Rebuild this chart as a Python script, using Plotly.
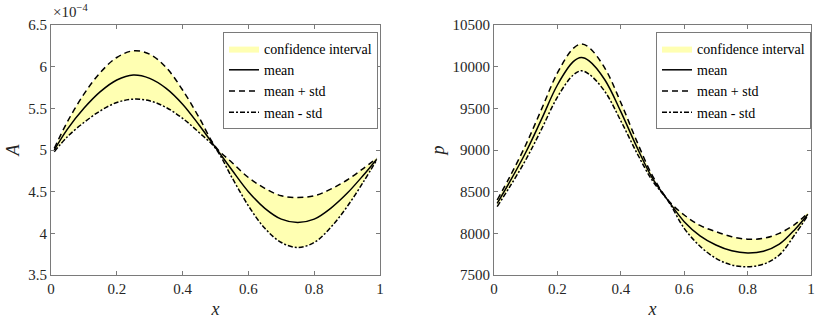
import plotly.graph_objects as go

# ---- data ----
x_left = [0.01, 0.05, 0.10, 0.15, 0.20, 0.25, 0.30, 0.35, 0.40, 0.45, 0.50,
          0.55, 0.60, 0.65, 0.70, 0.75, 0.80, 0.85, 0.90, 0.95, 0.99]
# A values in units of 1e-4
A_mean = [5.00, 5.25, 5.50, 5.70, 5.84, 5.90, 5.86, 5.74, 5.55, 5.30, 5.03,
          4.76, 4.50, 4.30, 4.17, 4.13, 4.17, 4.30, 4.48, 4.70, 4.89]
A_upper = [5.02, 5.34, 5.67, 5.93, 6.11, 6.19, 6.15, 5.99, 5.72, 5.39, 5.04,
           4.85, 4.67, 4.54, 4.45, 4.43, 4.45, 4.53, 4.64, 4.78, 4.90]
A_lower = [4.98, 5.16, 5.33, 5.47, 5.57, 5.61, 5.59, 5.51, 5.38, 5.21, 5.02,
           4.67, 4.33, 4.06, 3.89, 3.83, 3.89, 4.07, 4.32, 4.62, 4.88]

x_right = [0.01, 0.05, 0.10, 0.15, 0.20, 0.25, 0.275, 0.30, 0.35, 0.40, 0.45,
           0.50, 0.55, 0.60, 0.65, 0.70, 0.75, 0.80, 0.85, 0.90, 0.95, 0.99]
p_mean = [8360, 8620, 8970, 9370, 9780, 10060, 10110, 10070, 9840, 9460, 9040,
          8660, 8390, 8140, 7970, 7860, 7790, 7765, 7785, 7870, 8050, 8230]
p_upper = [8400, 8680, 9060, 9490, 9925, 10220, 10272, 10230, 9980, 9570, 9110,
           8690, 8395, 8220, 8095, 8020, 7960, 7930, 7940, 8000, 8110, 8245]
p_lower = [8320, 8560, 8880, 9250, 9635, 9900, 9950, 9910, 9700, 9350, 8970,
           8630, 8385, 8060, 7845, 7700, 7620, 7600, 7630, 7740, 7990, 8215]

legend_names = ["confidence interval", "mean", "mean + std", "mean - std"]
x_ticks = [0, 0.2, 0.4, 0.6, 0.8, 1]

FONT = "Liberation Serif"
FILL = "rgb(255,255,178)"
AXC = "#7a7a7a"
TXT = "#262626"

fig = go.Figure()

def add_panel(xs, mean, up, lo, xa, ya, leg):
    fig.add_trace(go.Scatter(
        x=xs + xs[::-1], y=up + lo[::-1], fill="toself", fillcolor=FILL,
        line=dict(width=0, shape="spline"), mode="lines", name=legend_names[0],
        xaxis=xa, yaxis=ya, legend=leg, hoverinfo="skip"))
    fig.add_trace(go.Scatter(
        x=xs, y=mean, mode="lines", name=legend_names[1],
        line=dict(color="black", width=1.5, shape="spline"),
        xaxis=xa, yaxis=ya, legend=leg))
    fig.add_trace(go.Scatter(
        x=xs, y=up, mode="lines", name=legend_names[2],
        line=dict(color="black", width=1.5, dash="6px,4px", shape="spline"),
        xaxis=xa, yaxis=ya, legend=leg))
    fig.add_trace(go.Scatter(
        x=xs, y=lo, mode="lines", name=legend_names[3],
        line=dict(color="black", width=1.5, dash="5px,2px,2px,2px", shape="spline"),
        xaxis=xa, yaxis=ya, legend=leg))

add_panel(x_left, A_mean, A_upper, A_lower, "x", "y", "legend")
add_panel(x_right, p_mean, p_upper, p_lower, "x2", "y2", "legend2")

W, H = 820, 321
ydom = [1 - 275 / H, 1 - 25 / H]

axis_common = dict(
    showline=True, linecolor=AXC, linewidth=1, mirror="ticks",
    ticks="inside", ticklen=4, tickcolor=AXC, showgrid=False, zeroline=False,
    tickfont=dict(family=FONT, size=15, color=TXT), automargin=False,
)

legend_common = dict(
    bgcolor="white", bordercolor=AXC, borderwidth=1,
    font=dict(family=FONT, size=14, color="black"),
    xanchor="left", yanchor="top", itemwidth=30, tracegroupgap=0,
)

title_font = dict(family=FONT, size=18, color=TXT)

fig.update_layout(
    width=W, height=H, margin=dict(l=0, r=0, t=0, b=0),
    paper_bgcolor="white", plot_bgcolor="white",
    font=dict(family=FONT),
    xaxis=dict(domain=[51 / W, 380 / W], range=[0, 1], tickvals=x_ticks,
               title=dict(text="<i>x</i>", font=title_font, standoff=6),
               anchor="y", **axis_common),
    yaxis=dict(domain=ydom, range=[3.5, 6.5], dtick=0.5,
               title=dict(text="<i>A</i>", font=title_font, standoff=3),
               anchor="x", **axis_common),
    xaxis2=dict(domain=[494 / W, 811 / W], range=[0, 1], tickvals=x_ticks,
                title=dict(text="<i>x</i>", font=title_font, standoff=6),
                anchor="y2", **axis_common),
    yaxis2=dict(domain=ydom, range=[7500, 10500], dtick=500, tickformat="d",
                title=dict(text="<i>p</i>", font=title_font, standoff=3),
                anchor="x2", **axis_common),
    legend=dict(x=223 / W, y=1 - 32 / H, **legend_common),
    legend2=dict(x=656 / W, y=1 - 32 / H, **legend_common),
    annotations=[dict(
        text="×10<sup>−4</sup>", xref="paper", yref="paper",
        x=51 / W, y=1 - 22 / H, xanchor="left", yanchor="bottom",
        showarrow=False, font=dict(family=FONT, size=15, color=TXT))],
    showlegend=True,
)

fig.write_html("out.html")
